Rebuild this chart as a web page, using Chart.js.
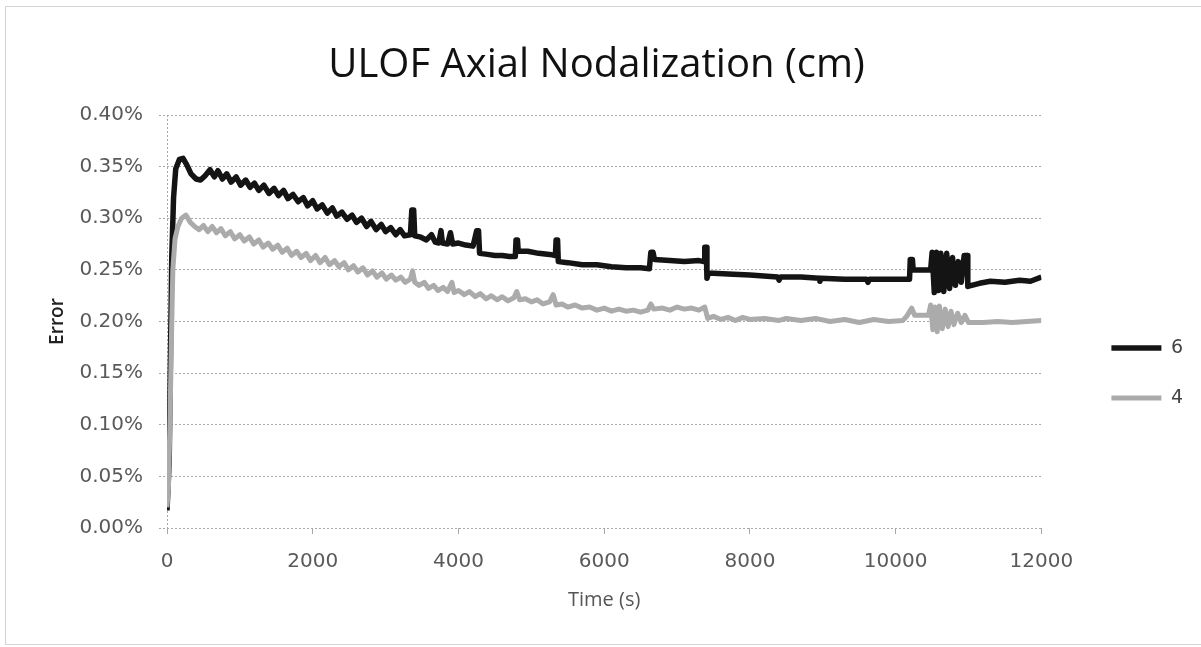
<!DOCTYPE html>
<html>
<head>
<meta charset="utf-8">
<title>ULOF Axial Nodalization</title>
<script src="https://cdn.jsdelivr.net/npm/chart.js@4.4.1/dist/chart.umd.min.js"></script>
<style>
  html, body { margin: 0; padding: 0; background: #fff; }
  #wrap { position: relative; width: 1201px; height: 647px; }
  #frame {
    position: absolute; left: 5px; top: 6px; width: 1196px; height: 639px;
    border: 1px solid #d4d4d4; border-right: none; box-sizing: border-box;
    pointer-events: none;
  }
</style>
</head>
<body>
<div id="wrap">
  <canvas id="nodalizationChart" width="1201" height="647"></canvas>
  <div id="frame"></div>
</div>
<script>
const chartTitle = 'ULOF Axial Nodalization (cm)';
const seriesNames = ['6', '4'];
const xTicks = [0, 2000, 4000, 6000, 8000, 10000, 12000];
const yTicks = [0, 0.05, 0.10, 0.15, 0.20, 0.25, 0.30, 0.35, 0.40];

// 6 cm nodes: time (s) and error (%)
const time6 = [
  0, 15, 30, 45, 65, 90, 120, 170, 220, 270,
  330, 400, 460, 520, 590, 650, 700, 760, 820, 880,
  950, 1010, 1080, 1140, 1200, 1260, 1330, 1400, 1470, 1530,
  1600, 1660, 1730, 1800, 1870, 1930, 2000, 2060, 2130, 2200,
  2270, 2330, 2400, 2470, 2540, 2600, 2670, 2740, 2800, 2870,
  2940, 3000, 3070, 3140, 3200, 3260, 3340, 3360, 3385, 3400,
  3470, 3560, 3630, 3680, 3730, 3760, 3780, 3850, 3890, 3920,
  4000, 4100, 4200, 4250, 4275, 4290, 4400, 4500, 4600, 4700,
  4780, 4790, 4810, 4820, 4950, 5100, 5250, 5330, 5340, 5360,
  5370, 5500, 5700, 5900, 6100, 6300, 6500, 6620, 6640, 6670,
  6690, 6900, 7100, 7300, 7370, 7380, 7400, 7410, 7430, 7700,
  8000, 8380, 8400, 8420, 8700, 8950, 8960, 8975, 9300, 9600,
  9620, 9640, 9900, 10190, 10200, 10230, 10240, 10480, 10500, 10530,
  10560, 10590, 10620, 10660, 10700, 10740, 10780, 10820, 10860, 10900,
  10940, 10980, 10990, 11150, 11300, 11500, 11700, 11850, 12000
];
const error6 = [
  0.017, 0.040, 0.065, 0.150, 0.262, 0.320, 0.348, 0.357, 0.358, 0.352,
  0.343, 0.338, 0.337, 0.341, 0.347, 0.340, 0.346, 0.338, 0.343, 0.335,
  0.340, 0.332, 0.337, 0.330, 0.334, 0.327, 0.332, 0.324, 0.329, 0.322,
  0.327, 0.319, 0.323, 0.316, 0.320, 0.312, 0.317, 0.309, 0.313, 0.305,
  0.310, 0.302, 0.306, 0.299, 0.303, 0.296, 0.300, 0.292, 0.297, 0.289,
  0.294, 0.287, 0.291, 0.284, 0.289, 0.283, 0.284, 0.308, 0.308, 0.283,
  0.282, 0.279, 0.284, 0.277, 0.276, 0.288, 0.276, 0.275, 0.286, 0.275,
  0.276, 0.274, 0.273, 0.288, 0.288, 0.266, 0.265, 0.264, 0.264, 0.263,
  0.263, 0.279, 0.279, 0.268, 0.268, 0.266, 0.265, 0.264, 0.279, 0.279,
  0.258, 0.257, 0.255, 0.255, 0.253, 0.252, 0.252, 0.251, 0.267, 0.267,
  0.260, 0.259, 0.258, 0.259, 0.258, 0.272, 0.272, 0.242, 0.247, 0.246,
  0.245, 0.243, 0.240, 0.243, 0.243, 0.242, 0.239, 0.242, 0.241, 0.241,
  0.238, 0.241, 0.241, 0.241, 0.260, 0.260, 0.250, 0.250, 0.267, 0.228,
  0.267, 0.230, 0.266, 0.229, 0.266, 0.232, 0.262, 0.235, 0.258, 0.238,
  0.264, 0.264, 0.234, 0.237, 0.239, 0.238, 0.240, 0.239, 0.243
];

// 4 cm nodes: time (s) and error (%)
const time4 = [
  0, 20, 40, 60, 80, 110, 150, 200, 260, 320,
  380, 440, 500, 560, 620, 680, 740, 800, 870, 930,
  1000, 1060, 1130, 1190, 1260, 1320, 1390, 1450, 1520, 1580,
  1650, 1710, 1780, 1840, 1910, 1970, 2040, 2100, 2170, 2230,
  2300, 2360, 2430, 2490, 2560, 2620, 2690, 2750, 2820, 2880,
  2950, 3010, 3080, 3140, 3210, 3270, 3340, 3370, 3400, 3460,
  3530, 3590, 3660, 3720, 3790, 3850, 3910, 3940, 4000, 4080,
  4150, 4230, 4300, 4380, 4450, 4530, 4600, 4680, 4760, 4800,
  4840, 4920, 5000, 5080, 5160, 5250, 5300, 5340, 5420, 5500,
  5600, 5700, 5800, 5900, 6000, 6100, 6200, 6300, 6400, 6500,
  6600, 6640, 6680, 6800, 6900, 7000, 7100, 7200, 7300, 7380,
  7420, 7500, 7600, 7700, 7800, 7900, 8000, 8200, 8400, 8500,
  8700, 8900, 9100, 9300, 9500, 9700, 9900, 10100, 10150, 10220,
  10260, 10450, 10480, 10510, 10540, 10570, 10600, 10640, 10680, 10720,
  10760, 10800, 10850, 10900, 10950, 11000, 11200, 11400, 11600, 11800, 12000
];
const error4 = [
  0.020, 0.040, 0.100, 0.180, 0.250, 0.280, 0.292, 0.300, 0.303, 0.296,
  0.292, 0.289, 0.293, 0.287, 0.292, 0.286, 0.290, 0.283, 0.287, 0.280,
  0.284, 0.278, 0.282, 0.275, 0.279, 0.272, 0.276, 0.270, 0.274, 0.267,
  0.271, 0.264, 0.268, 0.262, 0.266, 0.259, 0.264, 0.257, 0.262, 0.255,
  0.259, 0.253, 0.257, 0.250, 0.254, 0.248, 0.252, 0.245, 0.249, 0.243,
  0.247, 0.241, 0.245, 0.240, 0.243, 0.238, 0.241, 0.249, 0.238, 0.235,
  0.238, 0.232, 0.235, 0.230, 0.233, 0.229, 0.238, 0.228, 0.230, 0.226,
  0.229, 0.224, 0.227, 0.222, 0.225, 0.221, 0.224, 0.220, 0.223, 0.229,
  0.221, 0.222, 0.219, 0.221, 0.217, 0.219, 0.226, 0.216, 0.217, 0.214,
  0.216, 0.213, 0.214, 0.211, 0.213, 0.210, 0.212, 0.210, 0.211, 0.209,
  0.211, 0.217, 0.212, 0.213, 0.211, 0.214, 0.212, 0.213, 0.211, 0.214,
  0.203, 0.205, 0.202, 0.204, 0.201, 0.204, 0.202, 0.203, 0.201, 0.203,
  0.201, 0.203, 0.200, 0.202, 0.199, 0.202, 0.200, 0.201, 0.205, 0.213,
  0.206, 0.206, 0.216, 0.192, 0.214, 0.190, 0.215, 0.193, 0.212, 0.195,
  0.210, 0.197, 0.208, 0.199, 0.206, 0.199, 0.199, 0.200, 0.199, 0.200, 0.201
];

const toPoints = (xs, ys) => xs.map((x, i) => ({ x: x, y: ys[i] }));

const gridGray = '#a8a8a8';
const labelGray = '#5a5a5a';

new Chart(document.getElementById('nodalizationChart').getContext('2d'), {
  type: 'line',
  data: {
    datasets: [
      {
        label: seriesNames[0],
        data: toPoints(time6, error6),
        borderColor: '#141414',
        borderWidth: 5.5,
        order: 1
      },
      {
        label: seriesNames[1],
        data: toPoints(time4, error4),
        borderColor: '#ababab',
        borderWidth: 5,
        order: 0
      }
    ]
  },
  options: {
    responsive: false,
    animation: false,
    elements: {
      point: { radius: 0 },
      line: { tension: 0, borderJoinStyle: 'round' }
    },
    layout: { padding: { top: 0, left: 0, right: 8, bottom: 27 } },
    plugins: {
      tooltip: { enabled: false },
      title: {
        display: true,
        text: chartTitle,
        color: '#111',
        font: { family: 'Open Sans', size: 40, weight: 'normal', lineHeight: 1.2 },
        padding: { top: 42, bottom: 25 }
      },
      legend: {
        position: 'right',
        // blank title block pushes the two entries down beside the lower grid lines
        title: {
          display: true,
          text: ' ',
          font: { size: 10, lineHeight: 1.2 },
          padding: { top: 57, bottom: 57 }
        },
        labels: {
          usePointStyle: true,
          pointStyle: 'line',
          pointStyleWidth: 50,
          padding: 31,
          color: '#444',
          font: { family: 'DejaVu Sans', size: 19 },
          sort: (a, b) => a.datasetIndex - b.datasetIndex
        }
      }
    },
    scales: {
      x: {
        type: 'linear',
        min: 0,
        max: 12000,
        afterBuildTicks: axis => { axis.ticks = xTicks.map(v => ({ value: v })); },
        ticks: {
          color: labelGray,
          padding: 16,
          maxRotation: 0,
          font: { family: 'DejaVu Sans', size: 20 },
          callback: v => String(v)
        },
        grid: {
          drawOnChartArea: true,
          color: c => (c.tick && c.tick.value === 0 ? gridGray : 'rgba(0,0,0,0)'),
          tickColor: gridGray,
          tickLength: 6
        },
        border: { display: false, dash: [2, 2] },
        title: {
          display: true,
          text: 'Time (s)',
          color: '#555',
          font: { family: 'Open Sans', size: 20 },
          padding: { top: 8, bottom: 8 }
        },
        afterFit: axis => { axis.height = 92; }
      },
      y: {
        min: 0,
        max: 0.4,
        afterBuildTicks: axis => { axis.ticks = yTicks.map(v => ({ value: v })); },
        ticks: {
          color: labelGray,
          padding: 16,
          font: { family: 'DejaVu Sans', size: 20 },
          callback: v => v.toFixed(2) + '%'
        },
        grid: {
          color: gridGray,
          tickColor: gridGray,
          tickLength: 8,
          tickBorderDash: [2, 2]
        },
        border: { display: false, dash: [2, 2] },
        title: {
          display: true,
          text: 'Error',
          color: '#222',
          font: { family: 'Open Sans', size: 19, weight: '600' },
          padding: { top: 46, bottom: 0 }
        },
        afterFit: axis => { axis.width = 167; }
      },
      legendGap: {
        position: 'right',
        display: true,
        grid: { display: false },
        ticks: { display: false },
        border: { display: false },
        afterFit: axis => { axis.width = 39; }
      }
    }
  }
});
</script>
</body>
</html>
